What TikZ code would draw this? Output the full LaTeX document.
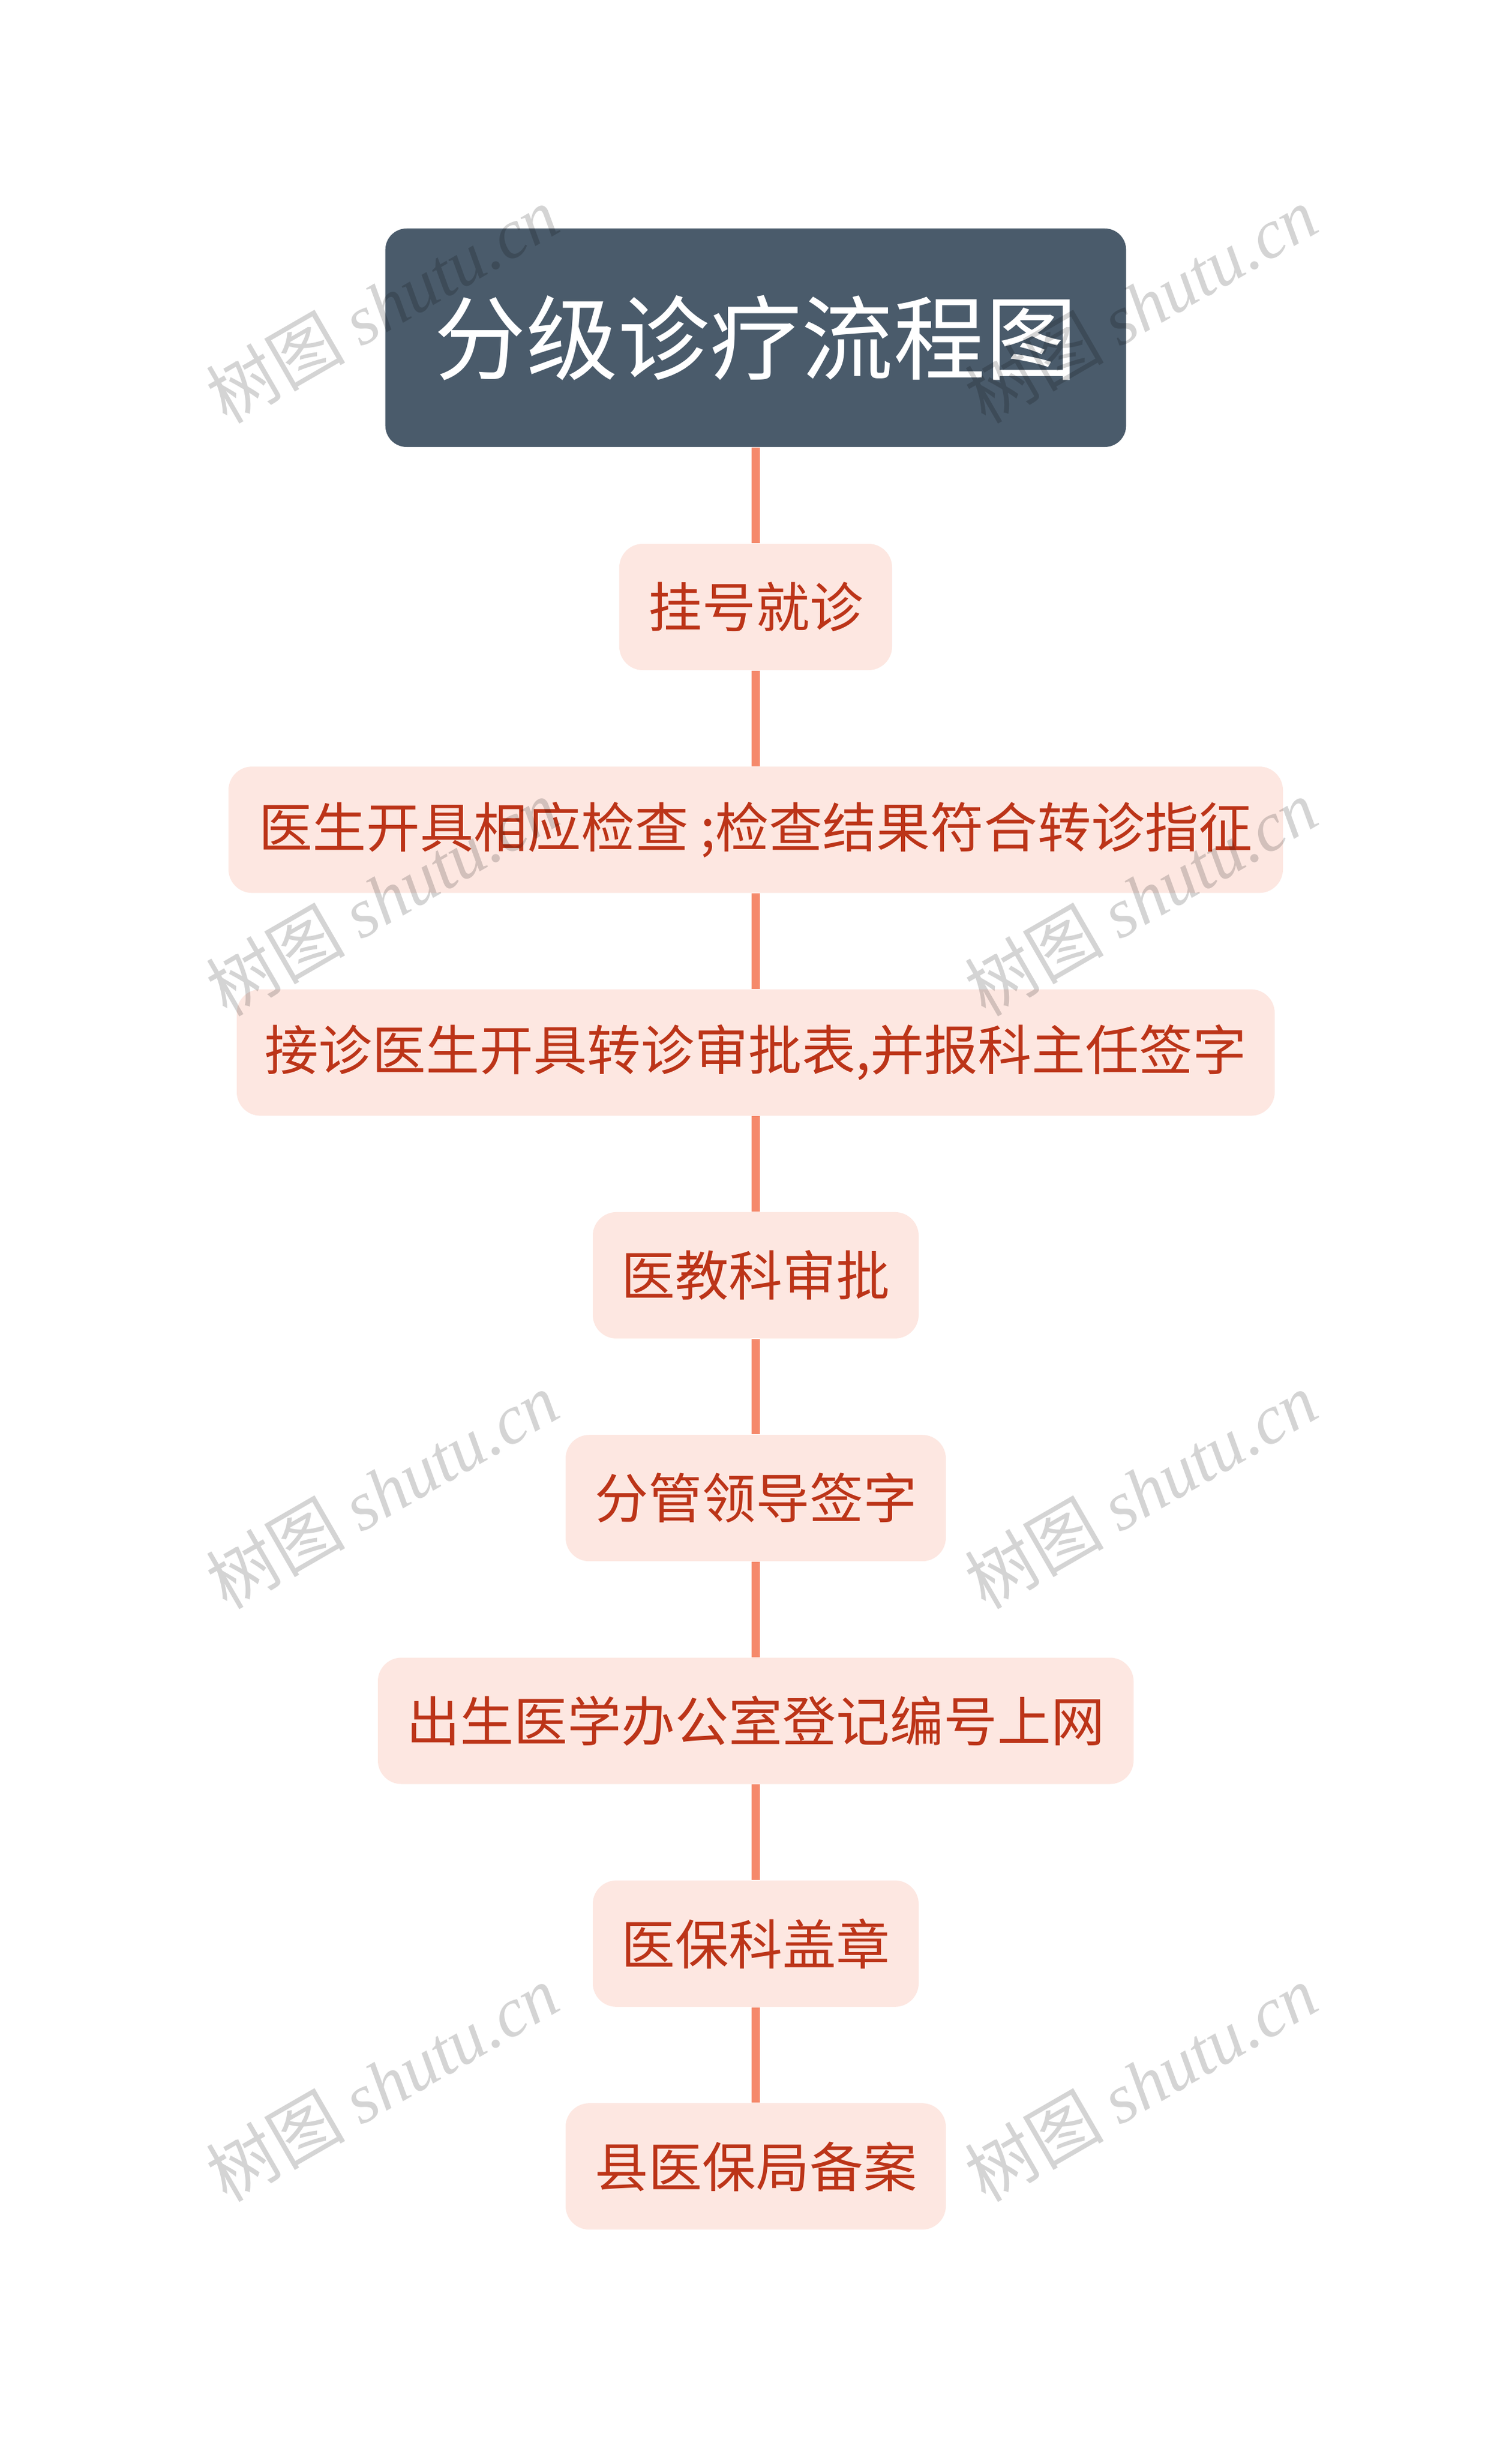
\documentclass[tikz,border=0pt]{standalone}
\usepackage{fontspec}
\setmainfont{Noto Sans CJK SC}
\newfontfamily\cjk{Noto Sans CJK SC}
\newfontfamily\wmlat{Liberation Serif}
\definecolor{titlefill}{HTML}{4A5B6B}
\definecolor{stepfill}{HTML}{FDE7E1}
\definecolor{steptext}{HTML}{BC3418}
\definecolor{linkcol}{HTML}{F5896B}
\tikzset{
  titlebox/.style={fill=titlefill, rounded corners=9pt, text=white, font=\cjk\fontsize{38.9pt}{46pt}\selectfont,
    minimum width=313.65pt, minimum height=92.5pt, inner sep=0pt, anchor=center},
  stepbox/.style={fill=stepfill, rounded corners=10pt, text=steptext, font=\cjk\fontsize{22.75pt}{27pt}\selectfont,
    minimum height=53.5pt, inner sep=0pt, anchor=center},
  link/.style={draw=linkcol, line width=3.5pt},
  wmark/.style={text=black, text opacity=0.17, rotate=30, inner sep=0pt, anchor=center,
    font=\fontsize{29.5pt}{34pt}\selectfont}
}
\newcommand{\wmtext}{{\cjk 树图} {\wmlat\itshape shutu.cn}}
\begin{document}
\begin{tikzpicture}
\useasboundingbox (0pt,0pt) rectangle (640pt,-1040.75pt);
\fill[white] (0pt,0pt) rectangle (640pt,-1040.75pt);
\node[titlebox] (t) at (320pt,-143pt) {分级诊疗流程图};
\node[stepbox, minimum width=115.5pt] (n1) at (320pt,-257pt) {挂号就诊};
\node[stepbox, minimum width=446.5pt] (n2) at (320pt,-351.325pt) {医生开具相应检查 ;检查结果符合转诊指征};
\node[stepbox, minimum width=439.5pt] (n3) at (320pt,-445.65pt) {接诊医生开具转诊审批表,并报科主任签字};
\node[stepbox, minimum width=138pt] (n4) at (320pt,-539.975pt) {医教科审批};
\node[stepbox, minimum width=161pt] (n5) at (320pt,-634.3pt) {分管领导签字};
\node[stepbox, minimum width=320pt] (n6) at (320pt,-728.625pt) {出生医学办公室登记编号上网};
\node[stepbox, minimum width=138pt] (n7) at (320pt,-822.95pt) {医保科盖章};
\node[stepbox, minimum width=161pt] (n8) at (320pt,-917.275pt) {县医保局备案};
\draw[link] (t.south) -- (n1.north);
\draw[link] (n1.south) -- (n2.north);
\draw[link] (n2.south) -- (n3.north);
\draw[link] (n3.south) -- (n4.north);
\draw[link] (n4.south) -- (n5.north);
\draw[link] (n5.south) -- (n6.north);
\draw[link] (n6.south) -- (n7.north);
\draw[link] (n7.south) -- (n8.north);
\node[wmark] (w1) at (161.75pt,-129pt) {\wmtext};
\node[wmark] (w2) at (483pt,-129pt) {\wmtext};
\node[wmark] (w3) at (161.75pt,-380pt) {\wmtext};
\node[wmark] (w4) at (483pt,-380pt) {\wmtext};
\node[wmark] (w5) at (161.75pt,-631pt) {\wmtext};
\node[wmark] (w6) at (483pt,-631pt) {\wmtext};
\node[wmark] (w7) at (161.75pt,-882pt) {\wmtext};
\node[wmark] (w8) at (483pt,-882pt) {\wmtext};
\end{tikzpicture}
\end{document}
